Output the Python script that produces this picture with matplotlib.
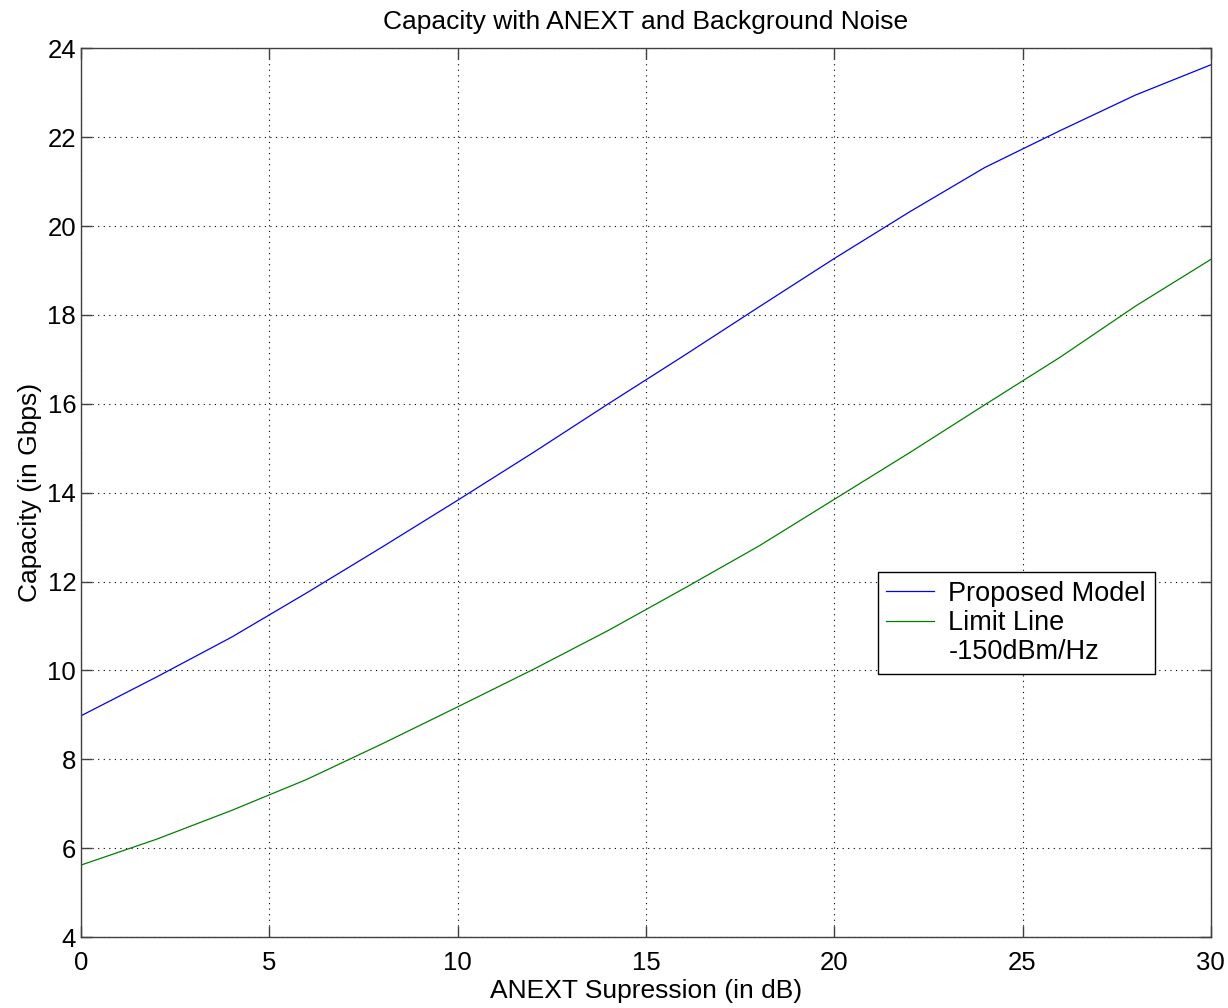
import numpy as np
import matplotlib.pyplot as plt
from matplotlib.lines import Line2D

plt.rcParams['font.family'] = ['Liberation Sans', 'DejaVu Sans']

# ANEXT suppression (dB)
supp_db = [0, 2, 4, 6, 8, 10, 12, 14, 16, 18, 20, 22, 24, 26, 28, 30]
# capacity in Gbps
proposed = [8.98, 9.85, 10.75, 11.75, 12.78, 13.83, 14.9, 16.0, 17.08, 18.18,
            19.27, 20.32, 21.32, 22.15, 22.95, 23.63]
limit = [5.62, 6.2, 6.85, 7.55, 8.35, 9.18, 10.02, 10.9, 11.84, 12.8,
         13.85, 14.9, 15.98, 17.05, 18.2, 19.25]

fig = plt.figure(figsize=(12.28, 10.08), dpi=100)
ax = fig.add_axes([0.066, 0.0704, 0.92, 0.8816])

l1, = ax.plot(supp_db, proposed, color='#0000ff', lw=0.9)
l2, = ax.plot(supp_db, limit, color='#008000', lw=0.9)

ax.set_xlim(0, 30)
ax.set_ylim(4, 24)
ax.set_xticks(np.arange(0, 31, 5))
ax.set_yticks(np.arange(4, 25, 2))
ax.tick_params(direction='in', length=8, width=1, labelsize=18.5, top=True, right=True,
               color='#404040')
ax.tick_params(axis='x', pad=10)
for s in ax.spines.values():
    s.set_color('#404040')
    s.set_linewidth(1)
ax.grid(True, linestyle=(0, (1, 4)), color='black', linewidth=0.8)

ax.set_title('Capacity with ANEXT and Background Noise', fontsize=19, pad=14)
ax.set_xlabel('ANEXT Supression (in dB)', fontsize=19, labelpad=3)
ax.set_ylabel('Capacity (in Gbps)', fontsize=19, labelpad=4)

# the second label runs over two rows, handle sits on the first one
blank = Line2D([], [], color='none')
leg = ax.legend([l1, l2, blank], ['Proposed Model', 'Limit Line', '-150dBm/Hz'],
                loc='upper left', bbox_to_anchor=(0.705, 0.4106), fontsize=19.5,
                frameon=True, fancybox=False, edgecolor='black', framealpha=1,
                handlelength=1.75, handletextpad=0.55, borderpad=0.32,
                labelspacing=0.12, borderaxespad=0)
leg.get_frame().set_linewidth(1)

fig.savefig('out.png', dpi=100)
